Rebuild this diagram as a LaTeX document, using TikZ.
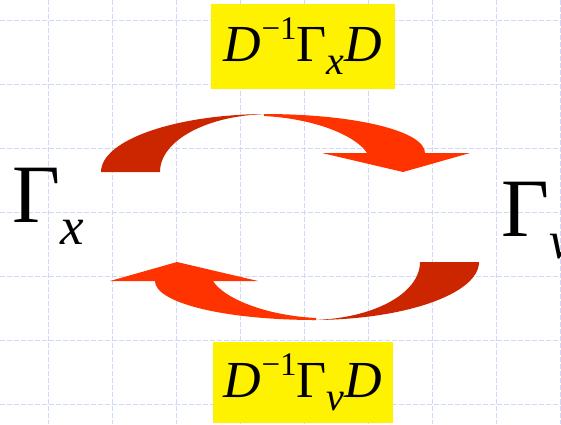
\documentclass[tikz,border=0pt]{standalone}
\usepackage{fontspec}
\setmainfont{Liberation Serif}
\definecolor{arrowback}{RGB}{204,38,0}
\definecolor{arrowfront}{RGB}{255,51,0}
\definecolor{gridblue}{RGB}{208,216,250}
\begin{document}
\begin{tikzpicture}[x=1pt, y=-1pt, line join=round,
    gridline/.style={gridblue, line width=0.8pt, dash pattern=on 5pt off 2pt},
    eqbox/.style={fill=yellow, inner sep=0pt, font=\fontsize{52}{52}\selectfont},
    bigsym/.style={anchor=base west, inner sep=0pt, font=\fontsize{83}{83}\selectfont}]
  \def\xmax{561} \def\ymax{424}
  \useasboundingbox (0,0) rectangle (\xmax,\ymax);
  \foreach \x in {48,112,...,560} \draw[gridline] (\x,0)--(\x,\ymax);
  \foreach \y in {20,84,...,404} \draw[gridline] (0,\y)--(\xmax,\y);
  % the lower arrow is the upper one turned round
  \foreach \r in {0,180}{
    \begin{scope}[rotate around={\r:(290,217)}]
      \fill[arrowback] (101,172) .. controls (101,140) and (176,114) .. (268,114)
        .. controls (208,115) and (160,140) .. (160,172) -- cycle;
      \fill[arrowfront] (264,114) .. controls (355,114) and (425,131) .. (425,153)
        -- (470,153) -- (403,172) -- (322,153) -- (367,153)
        .. controls (358,138) and (320,119) .. (264,116) -- cycle;
    \end{scope}
  }
  \node[eqbox, minimum width=184pt, minimum height=85pt] (upper) at (303,46.5)
    {\textit{D}\raisebox{22pt}{\fontsize{33}{33}\selectfont −1}Γ\raisebox{-13pt}{\fontsize{40}{40}\selectfont\textit{x}}\textit{D}};
  \node[eqbox, minimum width=180pt, minimum height=81pt] (lower) at (303,382.5)
    {\textit{D}\raisebox{22pt}{\fontsize{33}{33}\selectfont −1}Γ\raisebox{-13pt}{\fontsize{40}{40}\selectfont\textit{v}}\textit{D}};
  \node[bigsym] (gx) at (12,222) {Γ\raisebox{-22pt}{\fontsize{53}{53}\selectfont\textit{x}}};
  \node[bigsym] (gv) at (501,236) {Γ\raisebox{-22pt}{\fontsize{53}{53}\selectfont\textit{v}}};
\end{tikzpicture}
\end{document}
